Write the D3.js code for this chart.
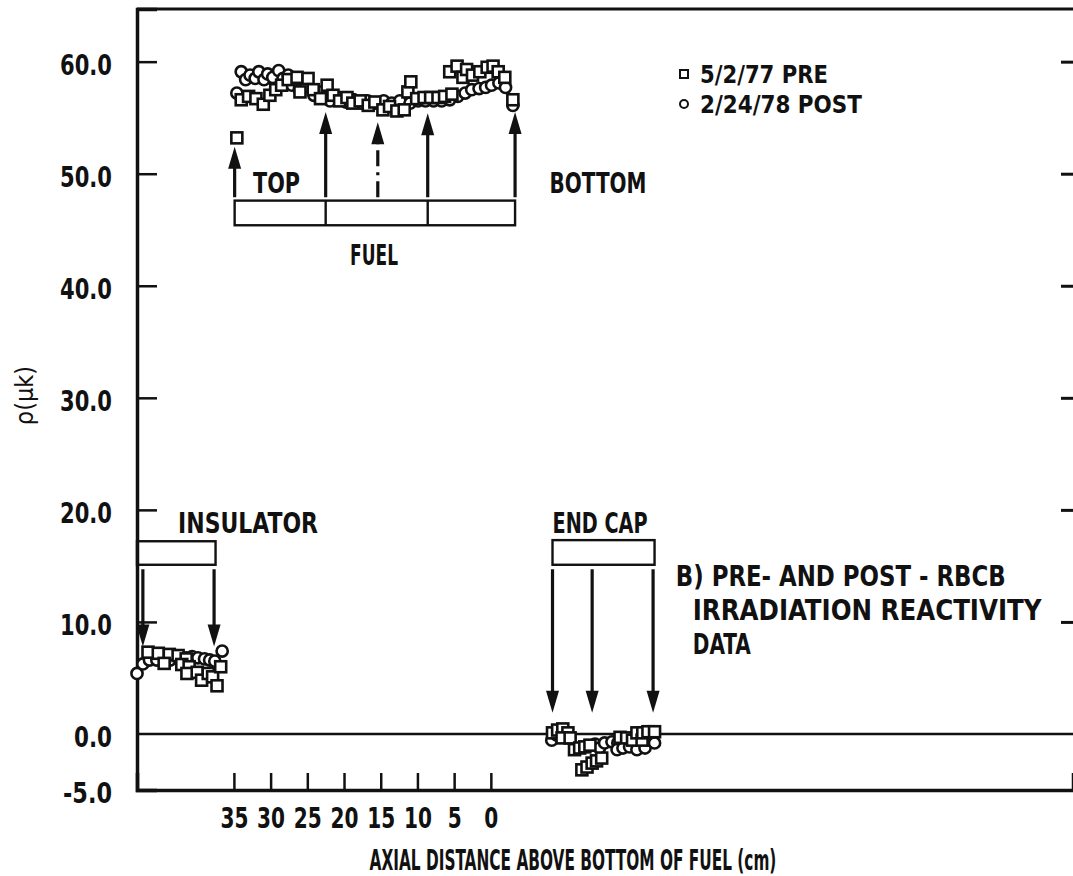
<!DOCTYPE html>
<html><head><meta charset="utf-8">
<script src="https://cdn.jsdelivr.net/npm/d3@7"></script>
<style>
body{margin:0;background:#fff;}
text{font-family:'DejaVu Sans Condensed','DejaVu Sans','Liberation Sans',sans-serif;font-weight:bold;fill:#111;}
</style>
</head><body>
<svg id="chart" width="1073" height="876"></svg>
<script>
// ---- data ----
const xTicks = [35, 30, 25, 20, 15, 10, 5, 0];
const yTicks = [-5, 0, 10, 20, 30, 40, 50, 60];
const seriesNames = ["5/2/77 PRE", "2/24/78 POST"];

// 5/2/77 PRE (squares): axial distance (cm), reactivity (μk)
const preX = [34.6,34.0,33.0,32.0,31.0,30.1,29.3,28.5,27.6,26.4,24.9,26.0,24.2,23.2,22.3,21.5,20.6,19.6,18.8,17.8,16.7,15.8,14.7,13.8,12.8,11.8,11.3,10.9,10.1,9.1,8.2,7.2,6.3,5.3,5.6,4.6,3.8,3.3,2.5,1.5,0.5,-0.3,-1.0,-1.9,-3.0,
  46.7,45.3,43.8,42.6,41.5,44.5,42.1,41.1,41.4,40.0,39.4,38.5,37.9,37.3,36.8,
  -8.4,-9.1,-9.8,-10.5,-9.7,-10.8,-11.4,-12.1,-12.8,-13.5,-12.4,-13.1,-13.8,-14.4,-15.1,-17.6,-18.5,-19.3,-19.9,-20.6,-20.7,-21.4,-22.3];
const preY = [53.2,56.6,56.9,56.7,56.2,57.0,57.5,57.9,58.4,58.6,58.5,57.3,57.5,56.7,57.9,57.0,56.5,56.8,56.3,56.5,56.1,56.4,55.7,56.0,55.6,55.7,57.3,58.2,56.7,56.8,56.8,56.8,56.9,57.1,59.1,59.6,58.6,59.3,58.8,59.1,59.5,59.6,59.1,58.6,56.6,
  7.3,7.2,7.1,7.0,6.7,6.3,6.2,6.0,5.4,5.5,4.8,5.4,5.1,4.3,6.0,
  0.1,0.35,0.45,0.1,-0.35,-0.35,-1.4,-1.25,-1.15,-1.0,-3.2,-2.95,-2.6,-2.4,-2.15,-0.3,-0.35,-0.55,0.1,-0.55,0.1,0.2,0.2];

// 2/24/78 POST (circles)
const postX = [34.6,34.0,33.4,32.8,32.1,31.6,30.9,30.4,29.7,28.9,28.3,27.6,27.1,26.1,25.2,24.1,23.0,21.9,20.8,19.7,18.7,17.7,16.8,15.7,14.6,13.5,12.4,11.0,9.9,8.9,7.8,6.7,5.6,4.5,3.5,2.6,1.6,0.7,-0.1,-1.1,-2.0,-3.0,
  48.2,47.4,46.5,45.5,43.7,42.4,41.5,40.7,39.9,39.0,38.3,37.6,36.6,
  -8.3,-9.0,-14.2,-14.8,-15.5,-16.5,-17.3,-17.2,-18.0,-18.9,-19.9,-21.0,-21.4,-22.3];
const postY = [57.2,59.1,58.4,58.8,58.5,59.1,58.4,58.9,58.6,59.2,58.5,58.8,57.9,57.5,57.8,57.0,57.3,56.5,56.8,56.4,56.6,56.3,56.5,56.3,56.5,56.3,56.5,56.3,56.5,56.5,56.5,56.5,56.6,56.9,57.2,57.5,57.6,57.7,57.9,58.1,57.7,56.1,
  5.4,6.25,6.6,6.6,6.6,6.7,6.8,6.9,6.8,6.7,6.6,6.5,7.4,
  -0.55,-0.1,-0.9,-1.25,-0.8,-0.7,-0.8,-1.4,-1.25,-1.15,-1.4,-1.25,-0.55,-0.8];

// ---- schematic annotations (in data units) ----
const fuelBox = {x0: 34.9, x1: -3.3, y0: 47.6, y1: 45.4, dividers: [22.5, 8.6]};
const fuelArrows = [{x:34.9,from:47.9,tip:52.4},{x:22.5,from:47.9,tip:55.5},{x:15.4,from:47.9,tip:54.6,dash:true},{x:8.6,from:47.9,tip:55.4},{x:-3.3,from:47.9,tip:55.5}];
const insBox = {x0: 48.2, x1: 37.5, y0: 17.2, y1: 15.1};
const insArrows = [{x:47.4,from:14.7,tip:7.8},{x:37.7,from:14.7,tip:7.8}];
const capBox = {x0: -8.4, x1: -22.3, y0: 17.3, y1: 15.1};
const capArrows = [{x:-8.4,from:14.7,tip:1.9},{x:-13.8,from:14.7,tip:1.9},{x:-22.1,from:14.7,tip:1.9}];
const labels = [
  {t:"TOP", x:32.4, y:49.2, a:"start", w:47},
  {t:"BOTTOM", x:-8.0, y:49.2, a:"start", w:97},
  {t:"FUEL", x:15.9, y:42.8, a:"middle", w:48},
  {t:"INSULATOR", x:42.6, y:18.9, a:"start", w:140},
  {t:"END CAP", x:-8.4, y:18.9, a:"start", w:95},
  {t:"B) PRE- AND POST - RBCB", x:-25.2, y:14.1, a:"start", w:330},
  {t:"IRRADIATION REACTIVITY", x:-27.5, y:11.1, a:"start", w:349},
  {t:"DATA", x:-27.5, y:8.1, a:"start", w:58}
];

// ---- drawing ----
const W = 1073, H = 876;
const m = {l:137, r:0, t:9, b:86};
const svg = d3.select("#chart");
const x = d3.scaleLinear().domain([48.2, -79.3]).range([m.l, W - m.r]);
const y = d3.scaleLinear().domain([-5, 64.7]).range([H - m.b, m.t]);
const ink = "#111";
const fmt = v => (v < 0 ? "-" : "") + Math.abs(v).toFixed(1);
// approximate widths of condensed scanned glyphs (px)
const glyphW = s => s.split("").reduce((a, c) => a + (c === "." ? 10 : c === "-" ? 11 : 14), 0);
// horizontal-only compression of a text to a target width, around its anchor x
function fit(sel, w) {
  const node = sel.node();
  const nat = node.getComputedTextLength();
  if (!nat) return sel;
  const sx = w / nat;
  const ax = +(sel.attr("x") || 0);
  const prev = sel.attr("transform") || "";
  sel.attr("transform", `${prev} translate(${ax},0) scale(${sx},1) translate(${-ax},0)`);
  return sel;
}

// frame lines
svg.append("line").attr("x1", x.range()[0]).attr("x2", x.range()[1]).attr("y1", y(64.7)).attr("y2", y(64.7))
  .attr("stroke", ink).attr("stroke-width", 3);
svg.append("line").attr("x1", x.range()[0]).attr("x2", x.range()[1]).attr("y1", y(0)).attr("y2", y(0))
  .attr("stroke", ink).attr("stroke-width", 2.5);

// left axis
const yAxis = d3.axisLeft(y).tickValues(yTicks).tickSize(-20).tickPadding(25).tickFormat(fmt);
const gy = svg.append("g").attr("transform", `translate(${m.l},0)`).call(yAxis);
gy.select(".domain").attr("stroke", ink).attr("stroke-width", 3.5);
gy.selectAll(".tick line").attr("stroke", ink).attr("stroke-width", 2.5)
  .attr("display", d => d <= 0 ? "none" : null);
gy.selectAll(".tick text").attr("font-size", 28).attr("fill", ink).attr("dy", "0.45em")
  .each(function(d) { fit(d3.select(this), glyphW(fmt(d))); });

// right short ticks
const gr = svg.append("g").attr("transform", `translate(${W},0)`)
  .call(d3.axisRight(y).tickValues(yTicks.filter(d => d > 0)).tickSize(-12).tickFormat(""));
gr.select(".domain").remove();
gr.selectAll(".tick line").attr("stroke", ink).attr("stroke-width", 3);

// bottom axis
const xAxis = d3.axisBottom(x).tickValues(xTicks).tickSize(-17).tickPadding(17).tickFormat(d3.format("d"));
const gx = svg.append("g").attr("transform", `translate(0,${y(-5)})`).call(xAxis);
gx.select(".domain").attr("stroke", ink).attr("stroke-width", 3.5);
gx.selectAll(".tick text").attr("font-size", 29).attr("fill", ink)
  .each(function(d) { fit(d3.select(this), glyphW(String(d))); });
gx.selectAll(".tick line").attr("stroke", ink).attr("stroke-width", 2.5);

// axis titles
fit(svg.append("text").attr("x", 573).attr("y", 870).attr("text-anchor", "middle")
  .attr("font-size", 28).text("AXIAL DISTANCE ABOVE BOTTOM OF FUEL (cm)"), 407);
svg.append("text").attr("transform", `translate(33,${y(30.2)}) rotate(-90)`).attr("text-anchor", "middle")
  .attr("font-size", 25).style("font-weight", "normal").text("ρ(μk)");

// boxes
function box(b, dividers) {
  svg.append("rect").attr("x", x(b.x0)).attr("y", y(b.y0)).attr("width", x(b.x1) - x(b.x0)).attr("height", y(b.y1) - y(b.y0))
    .attr("fill", "none").attr("stroke", ink).attr("stroke-width", 2.4);
  (dividers || []).forEach(d => svg.append("line").attr("x1", x(d)).attr("x2", x(d)).attr("y1", y(b.y0)).attr("y2", y(b.y1))
    .attr("stroke", ink).attr("stroke-width", 2.4));
}
box(fuelBox, fuelBox.dividers); box(insBox); box(capBox);

// arrows
function arrow(a) {
  const xs = x(a.x), y0 = y(a.from), yt = y(a.tip);
  const dir = yt < y0 ? 1 : -1; // 1 = pointing up
  const hl = 22, hw = 6.5;
  svg.append("line").attr("x1", xs).attr("x2", xs).attr("y1", y0).attr("y2", yt + dir * (hl - 4))
    .attr("stroke", ink).attr("stroke-width", 3.2)
    .attr("stroke-dasharray", a.dash ? "16,6,3,6" : null);
  svg.append("path").attr("d", `M${xs},${yt} L${xs - hw},${yt + dir * hl} L${xs + hw},${yt + dir * hl} Z`).attr("fill", ink);
}
fuelArrows.concat(insArrows, capArrows).forEach(arrow);

// labels
labels.forEach(l => fit(svg.append("text").attr("x", x(l.x)).attr("y", y(l.y)).attr("dy", "0.36em")
  .attr("text-anchor", l.a).attr("font-size", 29).text(l.t), l.w));

// data marks
const post = postX.map((v, i) => [v, postY[i]]);
const pre = preX.map((v, i) => [v, preY[i]]);
svg.append("g").selectAll("circle").data(post).join("circle")
  .attr("cx", d => x(d[0])).attr("cy", d => y(d[1])).attr("r", 5.6)
  .attr("fill", "#fff").attr("stroke", ink).attr("stroke-width", 2.6);
svg.append("g").selectAll("rect").data(pre).join("rect")
  .attr("x", d => x(d[0]) - 5.5).attr("y", d => y(d[1]) - 5.5).attr("width", 11).attr("height", 11)
  .attr("fill", "#fff").attr("stroke", ink).attr("stroke-width", 2.6);

// legend
const legendW = [128, 162];
const lg = svg.append("g").attr("transform", "translate(684,74)");
lg.append("rect").attr("x", -4).attr("y", -4).attr("width", 8).attr("height", 8).attr("fill", "#fff").attr("stroke", ink).attr("stroke-width", 2);
lg.append("circle").attr("cx", 0).attr("cy", 30).attr("r", 4).attr("fill", "#fff").attr("stroke", ink).attr("stroke-width", 2);
lg.selectAll("text").data(seriesNames).join("text").attr("x", 16).attr("y", (d, i) => i * 30).attr("dy", "0.36em")
  .attr("font-size", 25).text(d => d)
  .each(function(d, i) { fit(d3.select(this), legendW[i]); });
</script>
</body></html>
